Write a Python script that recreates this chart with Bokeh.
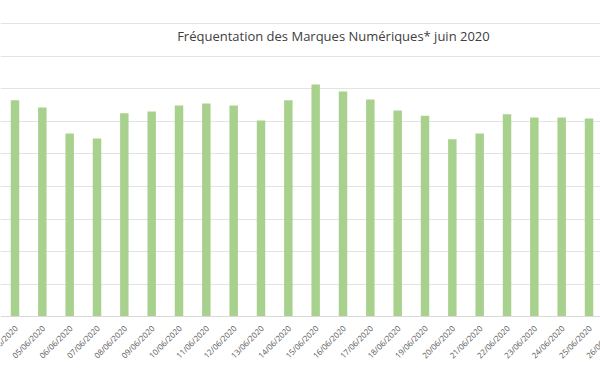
import math
from bokeh.plotting import figure
from bokeh.models import ColumnDataSource, FixedTicker, Range1d, Label, Span
from bokeh.core.properties import value
from bokeh.embed import file_html
from bokeh.resources import INLINE

dates = ["04/06/2020", "05/06/2020", "06/06/2020", "07/06/2020", "08/06/2020",
         "09/06/2020", "10/06/2020", "11/06/2020", "12/06/2020", "13/06/2020",
         "14/06/2020", "15/06/2020", "16/06/2020", "17/06/2020", "18/06/2020",
         "19/06/2020", "20/06/2020", "21/06/2020", "22/06/2020", "23/06/2020",
         "24/06/2020", "25/06/2020", "26/06/2020"]
values = [6.65, 6.43, 5.63, 5.48, 6.25, 6.31, 6.49, 6.55, 6.49, 6.03, 6.65,
          7.14, 6.92, 6.68, 6.34, 6.18, 5.45, 5.63, 6.22, 6.12, 6.12, 6.09]
grid_ticks = [1, 2, 3, 4, 5, 6, 7, 8, 9]
title_text = "Fréquentation des Marques Numériques* juin 2020"

idx = list(range(len(values)))
src = ColumnDataSource(dict(x=idx, top=values))
lab_src = ColumnDataSource(dict(x=list(range(len(dates))), y=[-0.31] * len(dates), t=dates))

p = figure(width=600, height=372, output_backend="svg", toolbar_location=None,
           x_range=Range1d(-0.5305, 21.42), y_range=Range1d(-1.723, 9.723),
           min_border_left=0, min_border_right=0, min_border_top=0, min_border_bottom=0)
p.xaxis.visible = False
p.yaxis.visible = False
p.outline_line_color = None
p.background_fill_color = "white"
p.border_fill_color = "white"

p.ygrid.ticker = FixedTicker(ticks=grid_ticks)
p.ygrid.grid_line_color = "#e3e3e3"
p.ygrid.grid_line_width = 1
p.xgrid.grid_line_color = None
p.add_layout(Span(location=0, dimension="width", line_color="#d9d9d9", line_width=1))

p.vbar(x="x", top="top", bottom=0, width=0.31, source=src,
       fill_color="#a9d18e", line_color=None)

# date labels, rotated 45 degrees, cut naturally at both canvas edges
p.text(x="x", y="y", text="t", source=lab_src, angle=math.pi / 4, x_offset=1,
       text_align="right", text_baseline="middle",
       text_font=value("Open Sans"), text_font_size="8px", text_color="#595959")

p.add_layout(Label(x=11.65, y=8.62, text=title_text, text_align="center",
                   text_baseline="middle", text_font="Open Sans",
                   text_font_size="13px", text_color="#404040"))

open("out.html", "w").write(file_html(p, INLINE))
